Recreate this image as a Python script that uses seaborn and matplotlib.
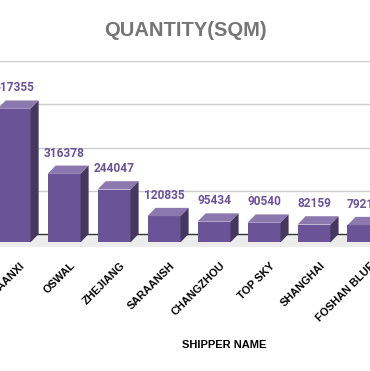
import matplotlib
matplotlib.use("Agg")
import matplotlib.pyplot as plt
from matplotlib.patches import Polygon
import seaborn as sns
import numpy as np
import pandas as pd

categories = ["SHAANXI", "OSWAL", "ZHEJIANG", "SARAANSH", "CHANGZHOU", "TOP SKY", "SHANGHAI", "FOSHAN BLUE"]
values = [617355, 316378, 244047, 120835, 95434, 90540, 82159, 79214]
yticks = [0, 200000, 400000, 600000, 800000]

FRONT = "#6a5397"
TOP = "#8a78ae"
SIDE = "#46375f"
LABEL = "#6a5397"

sns.set_theme(style="white")
plt.rcParams["font.family"] = ["Liberation Sans", "DejaVu Sans"]

W, H = 370, 371
fig = plt.figure(figsize=(W / 100, H / 100), dpi=100)

px_per_cat = 51.5
x0_px = 14.5
xmin = -x0_px / px_per_cat
xmax = xmin + W / px_per_cat
y_top_px, y_zero_px, y_bot_px = 61, 234, 248
unit_per_px = 800000 / (y_zero_px - y_top_px)
ymin = -(y_bot_px - y_zero_px) * unit_per_px

ax = fig.add_axes([0, 1 - y_bot_px / H, 1, (y_bot_px - y_top_px) / H])

depth_x = 8.3 / px_per_cat
depth_y = 8.3 * unit_per_px
bw = 34 / px_per_cat

df = pd.DataFrame({"name": categories, "qty": values})

sns.barplot(data=df, x="name", y="qty", color=FRONT, saturation=1, width=bw,
            bottom=-depth_y, ax=ax, zorder=2, linewidth=0)
bars = list(ax.containers[0])

# floor band & gridlines
ax.axhspan(-12.7 * unit_per_px, 0, color="#ececec", zorder=0, lw=0)
for t in yticks[1:]:
    ax.axhline(t, color="#cccccc", lw=1, zorder=0.5)
ax.axhline(0, color="#333333", lw=1, zorder=0.6)

for p, v in zip(bars, values):
    x1 = p.get_x()
    x2 = x1 + p.get_width()
    yt = p.get_y() + p.get_height()
    yb = p.get_y()
    top = Polygon([(x1, yt), (x2, yt), (x2 + depth_x, yt + depth_y), (x1 + depth_x, yt + depth_y)],
                  closed=True, facecolor=TOP, edgecolor="none", zorder=2)
    side = Polygon([(x2, yb), (x2, yt), (x2 + depth_x, yt + depth_y), (x2 + depth_x, yb + depth_y)],
                   closed=True, facecolor=SIDE, edgecolor="none", zorder=2)
    ax.add_patch(top)
    ax.add_patch(side)
    ax.text((x1 + x2) / 2, v + 6 * unit_per_px, f"{v}", ha="center", va="bottom",
            color=LABEL, fontsize=8.6, fontweight="bold", family=["Roboto", "DejaVu Sans"],
            clip_on=False)

ax.set_xlim(xmin, xmax)
ax.set_ylim(ymin, 800000)
ax.set_yticks([])
ax.set_xticks(np.arange(len(categories)) + 0.12)
ax.set_xticklabels(categories, rotation=45, ha="right", rotation_mode="anchor",
                   fontsize=7.8, fontweight="bold", color="#000000")
ax.tick_params(axis="x", length=0, pad=9)
ax.set_xlabel("")
ax.set_ylabel("")
for s in ax.spines.values():
    s.set_visible(False)

fig.text(185.5 / W, 1 - 31 / H, "QUANTITY(SQM)", ha="center", va="center",
         fontsize=14.5, fontweight="bold", color="#757575")
fig.text(224.5 / W, 1 - 345 / H, "SHIPPER NAME", ha="center", va="center",
         fontsize=8, fontweight="bold", color="#000000")

fig.savefig("out.png", dpi=100, facecolor="white")
